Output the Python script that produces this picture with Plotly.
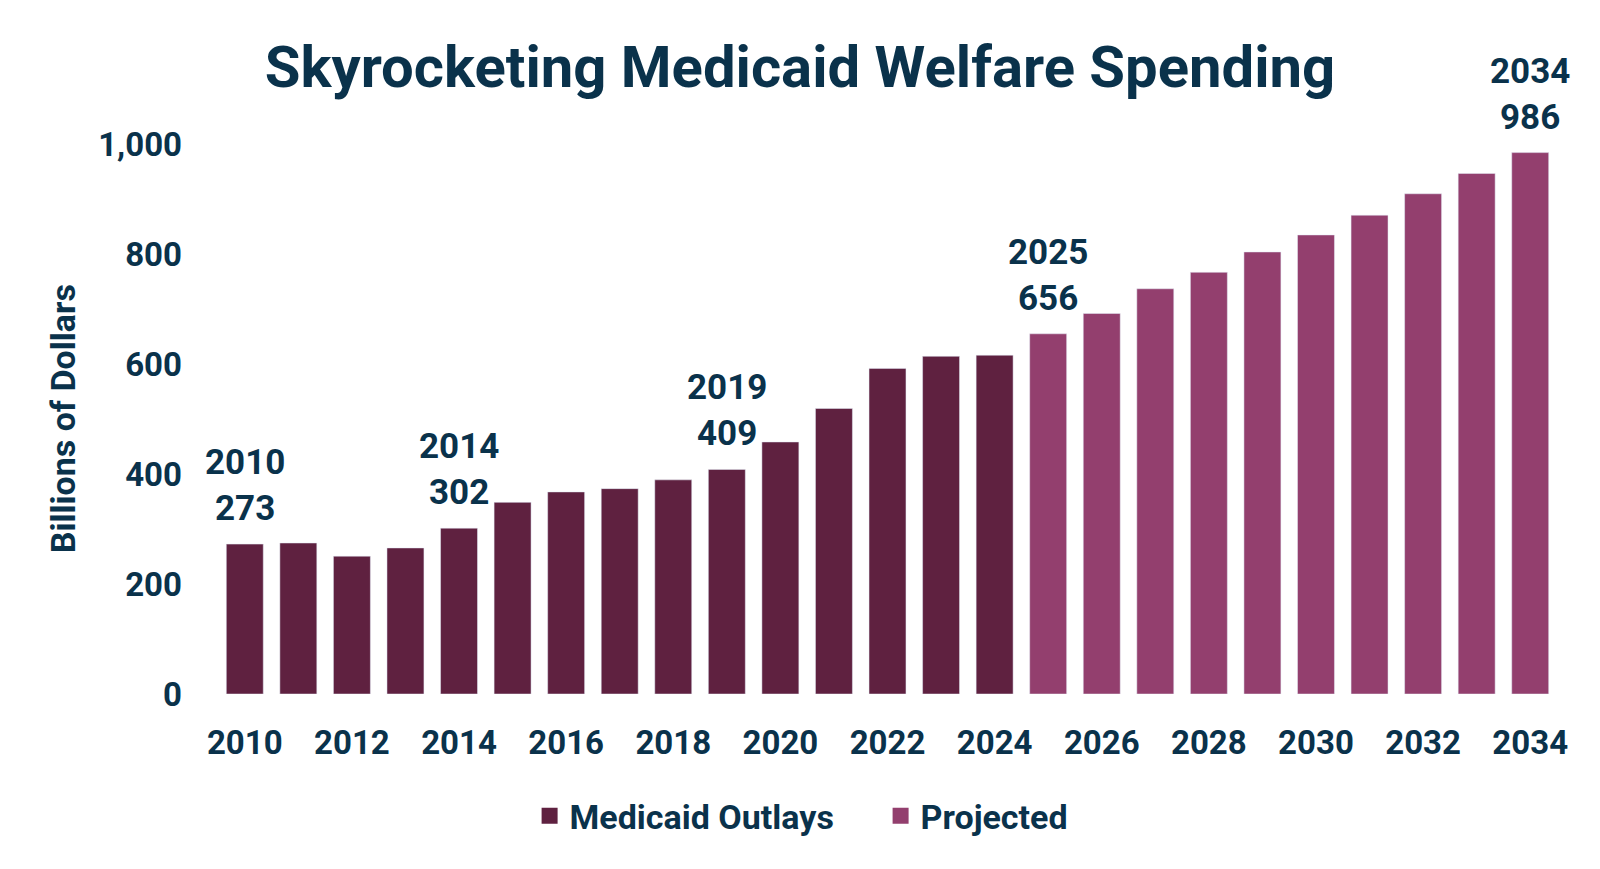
import plotly.graph_objects as go

# Medicaid outlays, billions of dollars
actual_years = list(range(2010, 2025))
actual_vals = [273, 275, 251, 266, 302, 349, 368, 374, 390, 409, 459, 520, 593, 615, 617]

proj_years = list(range(2025, 2035))
proj_vals = [656, 693, 738, 768, 805, 836, 872, 911, 948, 986]

label_years = [2010, 2014, 2019, 2025, 2034]

DARK = '#5f2140'
PROJ = '#933f6e'
TEXT = '#0a324b'
FONT = 'Roboto'

all_years = actual_years + proj_years
all_vals = actual_vals + proj_vals

fig = go.Figure()
fig.add_trace(go.Bar(x=actual_years, y=actual_vals, name='Medicaid Outlays', marker_color=DARK,
                     showlegend=False))
fig.add_trace(go.Bar(x=proj_years, y=proj_vals, name='Projected', marker_color=PROJ,
                     showlegend=False))

# legend entries with bigger square swatches
fig.add_trace(go.Scatter(x=[None], y=[None], mode='markers', name='Medicaid Outlays',
                         marker=dict(symbol='square', size=20, color=DARK)))
fig.add_trace(go.Scatter(x=[None], y=[None], mode='markers', name='Projected',
                         marker=dict(symbol='square', size=20, color=PROJ)))

for yr in label_years:
    val = all_vals[all_years.index(yr)]
    fig.add_annotation(x=yr, y=val, text=f'{yr}<br>{val}', showarrow=False, yanchor='bottom',
                       yshift=13, font=dict(family=FONT, size=35, color=TEXT, weight='bold'))

# y axis title placed by hand (it sits lower than the plot centre)
fig.add_annotation(xref='paper', yref='paper', x=0, y=0.455, xshift=-155, xanchor='center',
                   yanchor='middle', textangle=-90, showarrow=False, text='Billions of Dollars',
                   font=dict(family=FONT, size=34, color=TEXT, weight='bold'))

fig.update_layout(
    width=1600, height=869,
    plot_bgcolor='white', paper_bgcolor='white',
    font=dict(family=FONT, color=TEXT, size=33, weight='bold'),
    barmode='overlay', bargap=0.31,
    margin=dict(l=210, r=51, t=82, b=183),
    title=dict(text='<b>Skyrocketing Medicaid Welfare Spending</b>', x=0.495, xref='container', xanchor='center',
               y=0.933, yref='container', yanchor='middle',
               font=dict(family=FONT, size=58, color=TEXT)),
    legend=dict(orientation='h', x=0.326, xanchor='left', xref='container', y=0.070, yref='container',
                yanchor='middle', font=dict(family=FONT, size=34, color=TEXT, weight='bold'),
                itemsizing='trace', traceorder='normal', entrywidth=306, entrywidthmode='pixels'),
    xaxis=dict(range=[2009.5, 2034.5], dtick=2, tick0=2010, tickformat='d', showgrid=False,
               zeroline=False, showline=False, ticklabelstandoff=26,
               tickfont=dict(family=FONT, size=33, color=TEXT, weight='bold')),
    yaxis=dict(range=[0, 1100], dtick=200, tickformat=',', showgrid=False, zeroline=False,
               showline=False, ticklabelstandoff=35,
               tickfont=dict(family=FONT, size=33, color=TEXT, weight='bold')),
)

fig.write_html('out.html')
